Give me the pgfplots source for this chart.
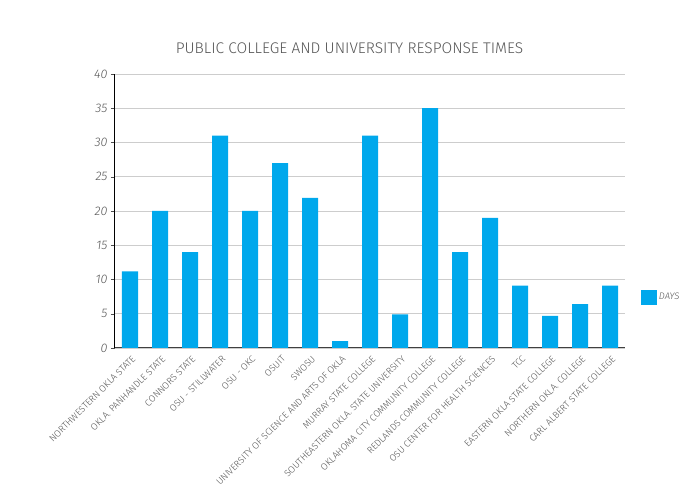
\documentclass[border=0pt]{standalone}
\usepackage{fontspec}
\setmainfont{Fira Sans}[UprightFont=* Light, ItalicFont=* Light Italic]
\usepackage{pgfplots}
\pgfplotsset{compat=1.18}

\definecolor{barblue}{HTML}{00A8EC}
\definecolor{gridgray}{HTML}{CDCDCD}
\definecolor{txtgray}{HTML}{555555}

\begin{document}
\begin{tikzpicture}[x=1bp,y=1bp]
\useasboundingbox (-115,-152) rectangle (584,348);
\begin{axis}[
    at={(0,0)}, anchor=south west,
    scale only axis,
    width=510bp, height=274bp,
    ybar, bar width=16bp,
    xmin=-0.5, xmax=16.5,
    ymin=0, ymax=40,
    ytick={0,5,...,40},
    xtick=data,
    xticklabels={NORTHWESTERN OKLA STATE, OKLA. PANHANDLE STATE, CONNORS STATE, OSU - STILLWATER, OSU - OKC, OSUIT, SWOSU, UNIVERSITY OF SCIENCE AND ARTS OF OKLA, MURRAY STATE COLLEGE, SOUTHEASTERN OKLA. STATE UNIVERSITY, OKLAHOMA CITY COMMUNITY COLLEGE, REDLANDS COMMUNITY COLLEGE, OSU CENTER FOR HEALTH SCIENCES, TCC, EASTERN OKLA STATE COLLEGE, NORTHERN OKLA. COLLEGE, CARL ALBERT STATE COLLEGE},
    x tick label style={rotate=45, anchor=north east, font=\fontsize{9.4}{10}\selectfont, text=txtgray, inner sep=1pt, yshift=-2bp},
    y tick label style={font=\itshape\fontsize{12.5}{13}\selectfont, text=txtgray},
    /pgf/number format/assume math mode=true,
    ymajorgrids=true,
    grid style={gridgray, line width=0.8bp},
    axis x line*=bottom, axis y line*=left,
    x axis line style={draw=black!75, line width=1bp},
    y axis line style={draw=black, line width=1bp},
    xtick style={draw=none},
    ytick style={draw=black!70},
    tick align=outside,
    major tick length=4bp,
    legend style={at={(1.025,0.186)}, anchor=west, draw=none, fill=none,
        font=\itshape\fontsize{9.5}{10}\selectfont, text=txtgray},
    legend image code/.code={\fill[barblue] (0bp,-7.5bp) rectangle (16bp,7.5bp);},
]
\addplot[fill=barblue, draw=none] coordinates {
    (0,11.2) (1,20) (2,14) (3,31) (4,20) (5,27) (6,21.9) (7,1) (8,31)
    (9,4.9) (10,35) (11,14) (12,19) (13,9.1) (14,4.7) (15,6.4) (16,9.1)
};
\addlegendentry{DAYS}
\end{axis}
\node[text=txtgray, font=\fontsize{15.5}{16}\selectfont] at (234.5,300) {PUBLIC COLLEGE AND UNIVERSITY RESPONSE TIMES};
\end{tikzpicture}
\end{document}
